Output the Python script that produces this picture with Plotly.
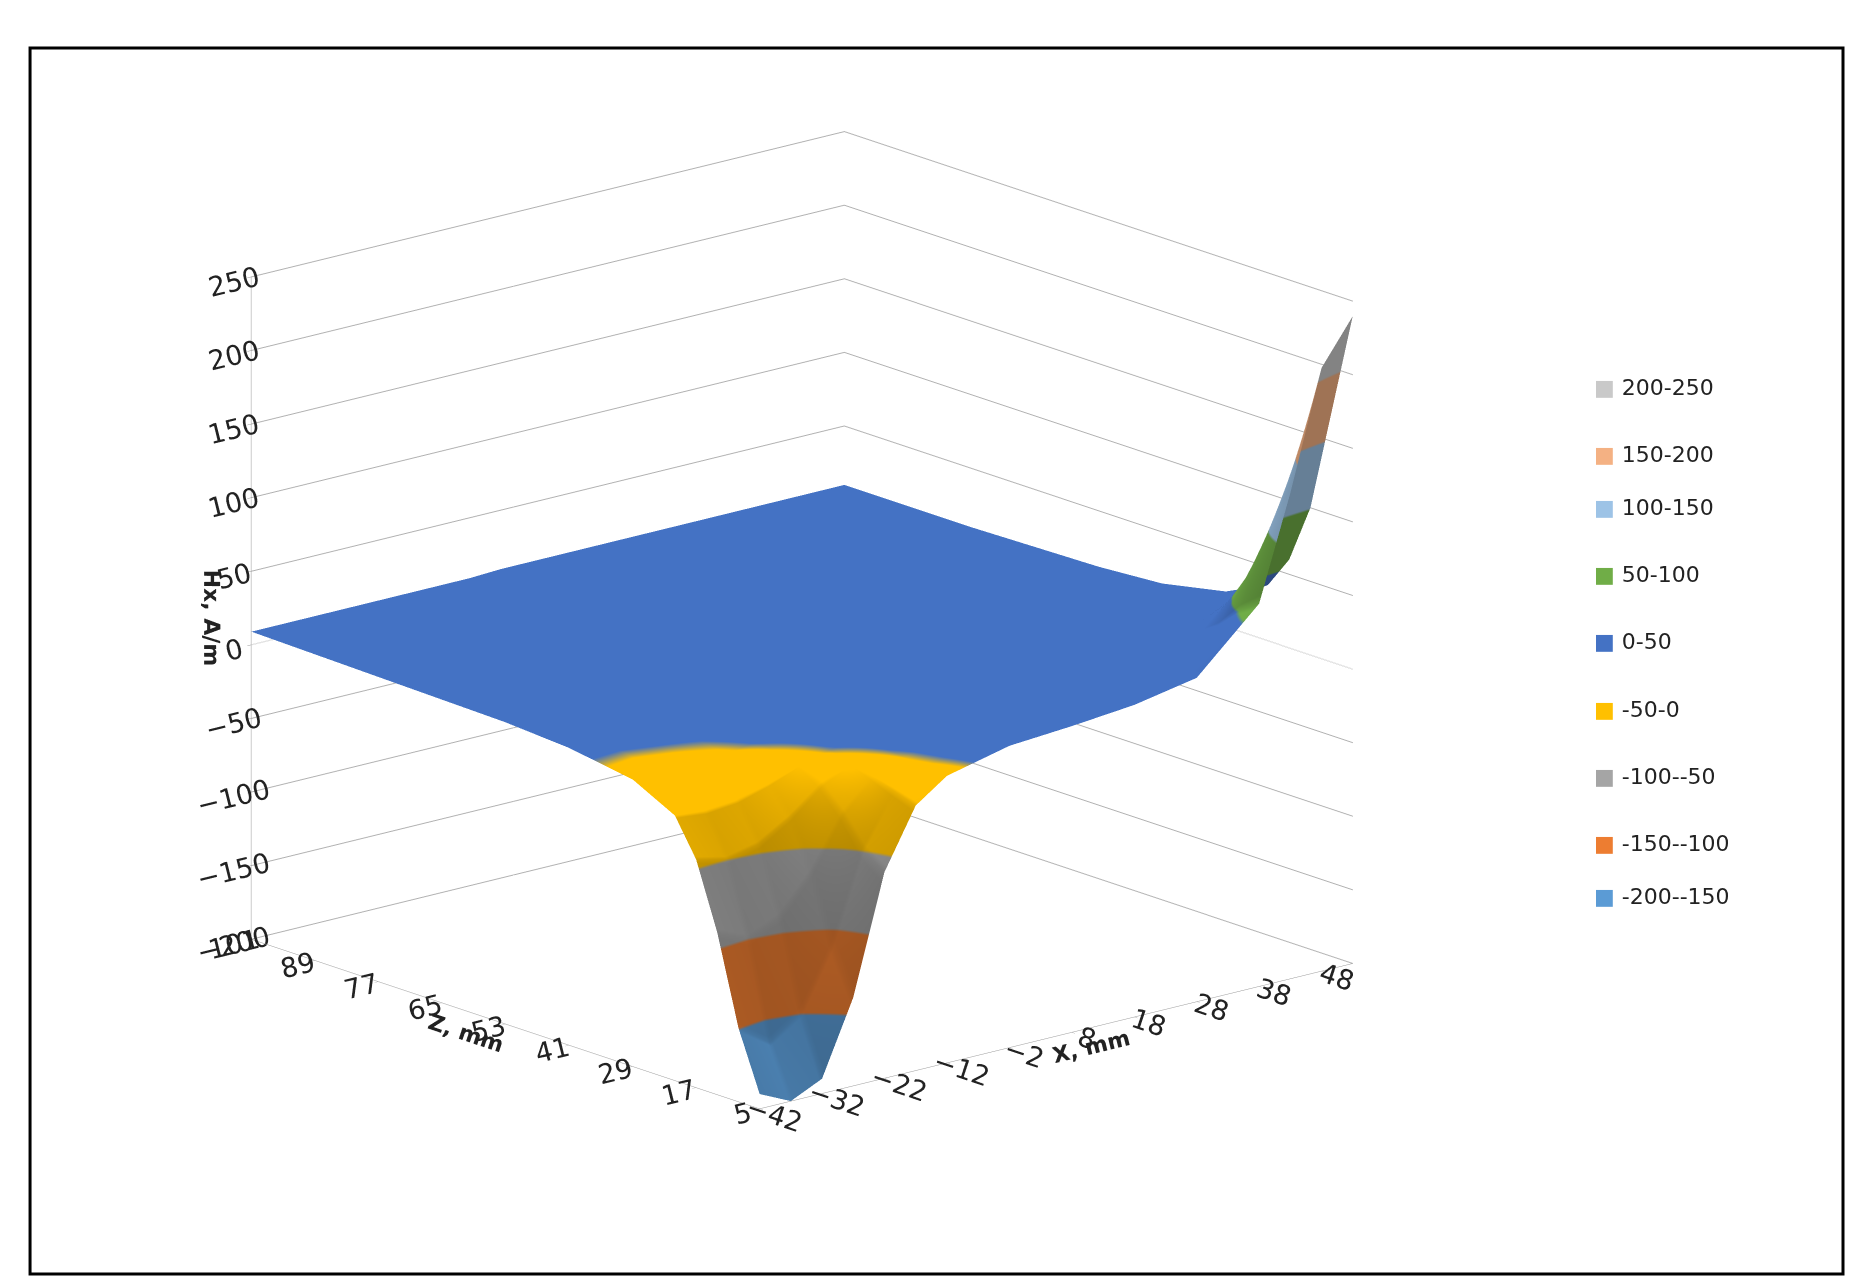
import plotly.graph_objects as go

# X positions (mm) across, Z positions (mm) away from the source
x_mm = [-42, -37, -32, -27, -22, -17, -12, -7, -2, 8, 18, 28, 38, 43, 48, 53]
z_mm = [5, 9, 13, 17, 21, 29, 41, 53, 65, 77, 89, 101]

# Hx, A/m - one row per Z value
hx = [
    [-190, -200, -190, -140, -60, -20, -5, 0, 5, 8, 12, 20, 60, 130, 210, 240],
    [-150, -165, -150, -110, -50, -15, -3, 1, 5, 8, 12, 18, 50, 100, 150, 170],
    [-90, -100, -90, -65, -30, -10, -2, 2, 5, 8, 10, 15, 35, 65, 90, 100],
    [-45, -50, -45, -32, -15, -5, 0, 3, 5, 7, 9, 12, 25, 40, 55, 60],
    [-20, -22, -20, -14, -6, -1, 2, 4, 5, 7, 8, 10, 18, 26, 35, 38],
    [-5, -6, -5, -3, 0, 2, 4, 5, 6, 7, 8, 9, 13, 17, 22, 24],
    [2, 2, 3, 3, 4, 5, 6, 6, 7, 7, 8, 9, 10, 12, 14, 15],
    [5, 5, 5, 6, 6, 6, 7, 7, 7, 8, 8, 9, 9, 10, 11, 12],
    [6, 6, 6, 7, 7, 7, 7, 8, 8, 8, 8, 9, 9, 10, 10, 11],
    [7, 7, 7, 7, 8, 8, 8, 8, 8, 9, 9, 9, 9, 10, 10, 10],
    [8, 8, 8, 8, 8, 8, 9, 9, 9, 9, 9, 9, 10, 10, 10, 10],
    [9, 9, 9, 9, 9, 9, 9, 9, 10, 10, 10, 10, 10, 10, 10, 10],
]

band_labels = ["-200--150", "-150--100", "-100--50", "-50-0", "0-50",
               "50-100", "100-150", "150-200", "200-250"]
band_colors = ["#5b9bd5", "#ed7d31", "#a5a5a5", "#ffc000", "#4472c4",
               "#70ad47", "#9dc3e6", "#f4b183", "#c9c9c9"]

n = len(band_colors)
scale = []
for i, c in enumerate(band_colors):
    scale.append([i / n, c])
    scale.append([(i + 1) / n, c])

fig = go.Figure(go.Surface(
    x=x_mm, y=z_mm, z=hx, colorscale=scale, cmin=-200, cmax=250,
    showscale=False, lighting=dict(ambient=0.65, diffuse=0.5, specular=0.05),
))

tick_font = dict(family="DejaVu Sans", size=18, color="#222")
title_font = dict(family="DejaVu Sans", size=22, color="#222")
ax = dict(showbackground=False, gridcolor="#b0b0b0", linecolor="#999",
          showline=True, tickfont=tick_font, ticks="outside", tickcolor="#999")
fig.update_layout(
    width=1875, height=1282, paper_bgcolor="white",
    margin=dict(l=40, r=40, t=40, b=40),
    scene=dict(
        domain=dict(x=[0.0, 0.84], y=[0.0, 1.0]),
        xaxis=dict(ax, title=dict(text="<b>X, mm</b>", font=title_font), showgrid=False,
                   tickvals=list(range(-42, 49, 10)), range=[-42, 53]),
        yaxis=dict(ax, title=dict(text="<b>Z, mm</b>", font=title_font), showgrid=False,
                   tickvals=list(range(5, 102, 12)), range=[5, 101]),
        zaxis=dict(ax, title=dict(text="<b>Hx, A/m</b>", font=title_font),
                   tickvals=list(range(-200, 251, 50)), range=[-200, 250]),
        aspectratio=dict(x=1.3, y=1.3, z=1.15),
        camera=dict(eye=dict(x=-1.2, y=-1.4, z=0.5), center=dict(x=0, y=0, z=-0.05),
                    projection=dict(type="orthographic")),
    ),
    shapes=[dict(type="rect", xref="paper", yref="paper", x0=-0.01, y0=-0.02,
                 x1=1.0, y1=1.0, line=dict(color="black", width=3))],
)

# legend, top band first
for k, i in enumerate(reversed(range(n))):
    yy = 0.73 - k * 0.056
    fig.add_annotation(x=0.86, y=yy, xref="paper", yref="paper", showarrow=False,
                       xanchor="left", text=f"<span style='color:{band_colors[i]}'>■</span> {band_labels[i]}",
                       font=dict(family="DejaVu Sans", size=22, color="#222"))

fig.write_html("out.html")
